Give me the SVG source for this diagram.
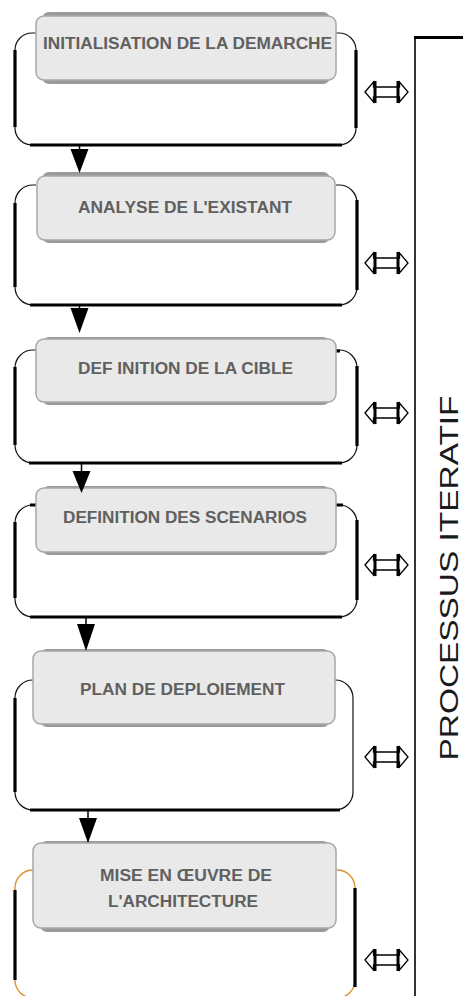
<svg xmlns="http://www.w3.org/2000/svg" width="463" height="996" viewBox="0 0 463 996">
<style>
.back{fill:#9a9a9a}
.front{fill:#e9e9e9;stroke:#a8a8a8;stroke-width:1.5}
.lbl{font-family:"Liberation Sans",Arial,sans-serif;font-weight:bold;font-size:16px;fill:#606060;text-anchor:middle}
.thin{fill:none;stroke:#111;stroke-width:1.2}
.thin6{fill:none;stroke:#e0902e;stroke-width:1.4}
.thick{fill:none;stroke:#000;stroke-width:3.2}
.tri{fill:#000}
.stem{stroke:#000;stroke-width:1.5}
</style>
<defs>
<g id="dbl">
<path d="M-21.5,0 L-13,-10 L-13,-5 L13,-5 L13,-10 L21.5,0 L13,10 L13,5 L-13,5 L-13,10 Z" fill="#fff" stroke="#000" stroke-width="1.3"/>
<line x1="-11.5" y1="-11" x2="-11.5" y2="11" stroke="#000" stroke-width="3"/>
<line x1="11.5" y1="-11" x2="11.5" y2="11" stroke="#000" stroke-width="3"/>
</g>
</defs>

<g id="frames">
<g id="frame1">
<path class="thin" d="M36,33 L32,33 A17,17 0 0 0 15,50 L15,128 A17,17 0 0 0 32,145 L339,145 A17,17 0 0 0 356,128 L356,50 A17,17 0 0 0 339,33 L336,33"/>
<path class="thick" d="M15,50 L15,127 M30,145 L342,145 M356,128 L356,50"/>
</g>
<g id="frame2">
<path class="thin" d="M36,185 L33,185 A18,18 0 0 0 15,203 L15,287 A18,18 0 0 0 33,305 L339,305 A18,18 0 0 0 357,287 L357,203 A18,18 0 0 0 339,185 L336,185"/>
<path class="thick" d="M15,203 L15,287 M30,305 L342,305 M357,290 L357,200"/>
</g>
<g id="frame3">
<path class="thin" d="M36,350 L33,350 A18,18 0 0 0 15,368 L15,445 A18,18 0 0 0 33,463 L339,463 A18,18 0 0 0 357,445 L357,368 A18,18 0 0 0 339,350 L336,350"/>
<path class="thick" d="M15,367 L15,445 M29,463 L342,463 M357,446 L357,366 M334,351 L340,351"/>
</g>
<g id="frame4">
<path class="thin" d="M36,505 L33,505 A18,18 0 0 0 15,523 L15,599 A18,18 0 0 0 33,617 L339,617 A18,18 0 0 0 357,599 L357,523 A18,18 0 0 0 339,505 L336,505"/>
<path class="thick" d="M15,522 L15,598 M30,617 L342,617 M357,600 L357,520 M30,505 L36,505 M336,505 L343,505"/>
</g>
<g id="frame5">
<path class="thin" d="M33,680 L33,680 A18,18 0 0 0 15,698 L15,792 A18,18 0 0 0 33,810 L335,810 A18,18 0 0 0 353,792 L353,698 A18,18 0 0 0 335,680 L335,680"/>
<path class="thick" d="M15,698 L15,792 M30,810 L340,810"/>
</g>
<g id="frame6">
<path class="thin6" d="M33,870 A18,18 0 0 0 15,888 L15,980 A18,18 0 0 0 33,998 L337,998 A18,18 0 0 0 355,980 L355,888 A18,18 0 0 0 337,870"/>
<path class="thick" d="M15,890 L15,980 M355,888 L355,987"/>
</g>
</g>

<g id="n1">
<rect class="back" x="42" y="12" width="288" height="72" rx="7"/>
<rect class="front" x="36" y="16" width="300" height="64" rx="8"/>
<text class="lbl" x="187.5" y="49" textLength="289" lengthAdjust="spacingAndGlyphs">INITIALISATION DE LA DEMARCHE</text>
</g>
<g id="n2">
<rect class="back" x="42" y="172" width="288" height="71" rx="7"/>
<rect class="front" x="37" y="176" width="298" height="64" rx="8"/>
<text class="lbl" x="185" y="213" textLength="214" lengthAdjust="spacingAndGlyphs">ANALYSE DE L'EXISTANT</text>
</g>
<g id="n3">
<rect class="back" x="42" y="337" width="288" height="68" rx="7"/>
<rect class="front" x="36" y="339" width="300" height="63" rx="8"/>
<text class="lbl" x="185.5" y="374" textLength="215" lengthAdjust="spacingAndGlyphs">DEF INITION DE LA CIBLE</text>
</g>
<g id="n4">
<rect class="back" x="42" y="486" width="288" height="69" rx="7"/>
<rect class="front" x="36" y="488" width="300" height="64" rx="8"/>
<text class="lbl" x="185" y="523" textLength="244" lengthAdjust="spacingAndGlyphs">DEFINITION DES SCENARIOS</text>
</g>
<g id="n5">
<rect class="back" x="40" y="649" width="290" height="78" rx="7"/>
<rect class="front" x="33" y="651" width="302" height="73" rx="8"/>
<text class="lbl" x="182.5" y="695" textLength="205" lengthAdjust="spacingAndGlyphs">PLAN DE DEPLOIEMENT</text>
</g>
<g id="n6">
<rect class="back" x="40" y="841" width="290" height="91" rx="7"/>
<rect class="front" x="33" y="843" width="303" height="85" rx="8"/>
<text class="lbl" x="186" y="881" textLength="172" lengthAdjust="spacingAndGlyphs">MISE EN ŒUVRE DE</text>
<text class="lbl" x="183" y="907" textLength="150" lengthAdjust="spacingAndGlyphs">L'ARCHITECTURE</text>
</g>

<g id="connectors">
<line class="stem" x1="79.5" y1="145" x2="79.5" y2="150"/>
<polygon class="tri" points="70.5,149 88.5,149 79.5,173"/>
<line class="stem" x1="79.5" y1="305" x2="79.5" y2="309"/>
<polygon class="tri" points="70.5,308 88.5,308 79.5,333"/>
<line class="stem" x1="81.5" y1="463" x2="81.5" y2="472"/>
<polygon class="tri" points="72.5,471 90.5,471 81.5,493"/>
<line class="stem" x1="86" y1="617" x2="86" y2="625"/>
<polygon class="tri" points="77,624 95,624 86,651"/>
<line class="stem" x1="88" y1="810" x2="88" y2="819"/>
<polygon class="tri" points="79,818 97,818 88,843"/>
<use href="#dbl" x="386.5" y="92"/>
<use href="#dbl" x="386.5" y="263"/>
<use href="#dbl" x="386.5" y="413"/>
<use href="#dbl" x="386.5" y="565"/>
<use href="#dbl" x="386.5" y="757"/>
<use href="#dbl" x="386.5" y="960"/>
</g>

<g id="process">
<line x1="415" y1="36" x2="415" y2="996" stroke="#333" stroke-width="2"/>
<line x1="414" y1="37.5" x2="463" y2="37.5" stroke="#000" stroke-width="3"/>
<text transform="translate(458,578) rotate(-90)" font-family="'Liberation Sans',Arial,sans-serif" font-size="25" fill="#1a1a1a" text-anchor="middle" textLength="365" lengthAdjust="spacingAndGlyphs">PROCESSUS ITERATIF</text>
</g>
</svg>
